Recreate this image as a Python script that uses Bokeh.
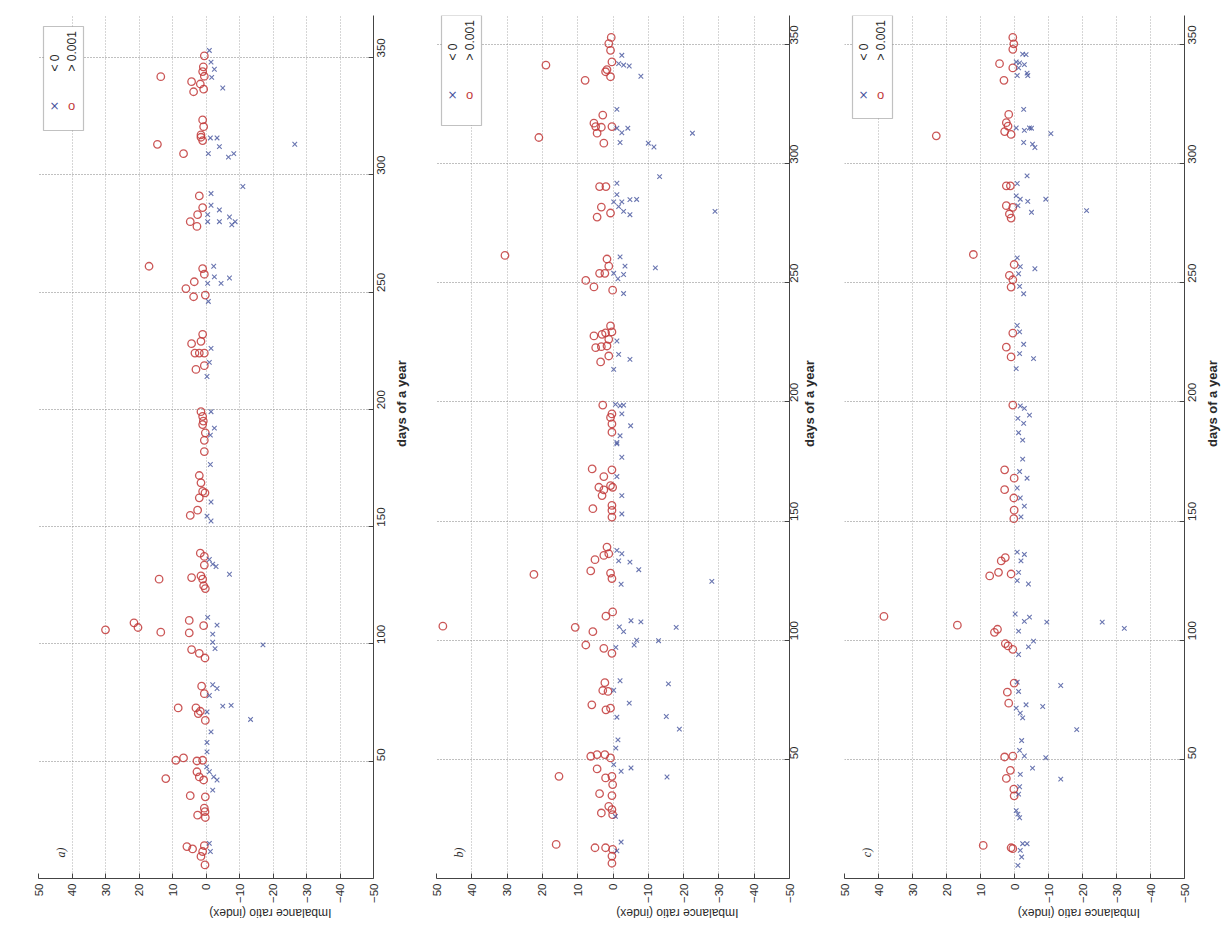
import math
from bokeh.plotting import figure
from bokeh.models import Range1d, FixedTicker, Label, BoxAnnotation
from bokeh.layouts import row
from bokeh.embed import file_html
from bokeh.resources import INLINE

# ---------------- data ----------------
imb_ticks = [50, 40, 30, 20, 10, 0, -10, -20, -30, -40, -50]
day_ticks = [50, 100, 150, 200, 250, 300, 350]
panel_tags = ["a)", "b)", "c)"]
legend_labels = ["< 0", "> 0.001"]
x_title = "Imbalance ratio  (index)"
y_title = "days of a year"

# panel a) : circles (> 0.001)
a_circ_day = [350.7, 341.8, 346, 344, 342, 339.7, 338.7, 335.4, 336.5, 323.4, 320.5, 317, 316, 314.6, 313, 309,
              291, 286, 283, 280, 278, 261, 260, 257.6, 254.4, 251.5, 248, 248.7, 232, 229, 228, 224, 224, 224,
              218.6, 217, 199, 197, 195, 193.5, 190, 186.8, 182, 171.8, 168.7, 165, 164.4, 162.3, 157, 154.8,
              138.7, 137.3, 133.6, 129, 128.3, 127.6, 127.6, 124.8, 123.6, 110, 107.8, 105, 104.7, 106, 109, 107,
              97.6, 96, 94, 82, 78.8, 72.7, 72.7, 70.3, 71.3, 67.4, 51.4, 50.4, 50.1, 50.4, 45.5, 43.3, 42.6, 42,
              35.3, 34.8, 30, 28.5, 27, 26, 13.6, 12.6, 14, 11.5, 9.4, 5.8]
a_circ_val = [0.5, 13.5, 0.8, 1, 0.5, 4.3, 1.7, 3.7, 0.7, 1, 0.7, 1.5, 1.5, 1, 14.5, 6.7,
              2, 1, 2.5, 4.7, 2.7, 17, 1, 0.5, 3.5, 6, 3.7, 0.2, 1, 1.5, 4.3, 3.3, 2, 0.5,
              0.5, 3, 1.5, 1, 0.8, 1, 0.2, 0.5, 0.5, 2, 1.5, 1, 0.3, 2, 2.5, 4.7,
              1.7, 0.5, 0.5, 1.5, 4.3, 14, 1, 0.7, 0.2, 5, 0.7, 13.5, 5, 30, 21.5, 20.3,
              4.3, 2, 0.3, 1.3, 0.5, 8.3, 3, 2.3, 1.7, 0.2, 6.7, 9, 2.7, 1, 2.7, 2, 12, 0.7,
              4.7, 0.2, 0.5, 0.3, 2.5, 0.2, 5.7, 4, 0.5, 1, 1.5, 0.3]
# panel a) : crosses (< 0)
a_cross_day = [353, 348, 345, 341.5, 337, 315.7, 315.7, 312, 309, 307.5, 309, 313, 295, 292, 287, 285, 283, 280,
               280, 282, 280, 278.7, 261, 256.5, 256, 253.7, 253.7, 246, 226, 220, 214, 199, 192, 189, 176.5,
               160.5, 154.5, 152.4, 136, 134, 133, 129.7, 111.3, 108, 104.2, 100.7, 98, 99.6, 82.6, 81, 78, 73.5,
               73.8, 71, 67.8, 62.5, 58, 54, 47.6, 45.5, 43.3, 42, 37.7, 15, 11.5]
a_cross_val = [-1, -1.5, -2.5, -1.7, -5, -1.3, -3.3, -4, -0.7, -6.7, -8.3, -26.5, -11, -1.5, -1.5, -4, -0.5, -0.5,
               -4, -7, -8.7, -7.7, -2.3, -2.5, -7, -4.5, -0.5, -0.7, -1.5, -1, -0.3, -1.5, -2.5, -1.3, -1.3,
               -1.5, -0.3, -1.5, -1, -2, -3, -7, -0.5, -3.3, -2, -2, -2.7, -17, -2, -3.3, -1, -5,
               -7.5, -0.3, -13.3, -1.5, -0.3, -0.3, -0.2, -1, -2.3, -3.3, -2, -1, -1.3]

# panel b) : circles (> 0.001)
b_circ_day = [353, 350.4, 347.6, 342.7, 339.5, 338.6, 336.5, 335, 341.4, 320.4, 317, 315.6, 315.3, 312.8, 315.6,
              308.6, 311, 290.4, 290.4, 281.8, 277.6, 279.3, 260, 254, 254, 257, 251, 248.3, 246.9, 261.5,
              231.9, 229, 229.4, 227.7, 228.4, 226.3, 222.8, 223.2, 223.5, 216.8, 219.3, 198.7, 195, 193.5,
              190.8, 187.3, 171.9, 171.5, 168.7, 164.2, 163.1, 160.7, 164.9, 164.2, 155.2, 156.6, 154.5, 151.7,
              139.1, 135.6, 136.3, 133.8, 129.1, 128.2, 125.9, 127.6, 111.9, 110.1, 105.4, 103.6, 98, 96.6,
              94.5, 105.9, 82.2, 78.9, 78.5, 72.9, 70.8, 71.5, 51.3, 52, 52, 50.6, 46, 42.9, 42.2, 42.9, 39.4,
              35.6, 34.8, 30.3, 28.9, 27.5, 26.8, 14.3, 12.9, 12.9, 12.2, 9.4, 6.4]
b_circ_val = [0.5, 1.2, 0.7, 0.3, 1.7, 2.1, 0.7, 7.9, 19, 2.9, 5.4, 4.9, 3.3, 4.5, 0.3,
              2.6, 21, 3.8, 2, 3.3, 4.5, 0.7, 1.7, 3.8, 2.3, 1.2, 7.7, 5.4, 0.1, 30.6,
              0.7, 2.1, 0.3, 5.4, 3.1, 1.2, 4.9, 3.3, 1.7, 3.5, 1.2, 2.9, 0.3, 0.7,
              0.3, 0.3, 5.9, 0.3, 2.6, 4, 2.6, 3.1, 0.7, 0.1, 5.7, 0.3, 0.3, 0.3,
              1.7, 2.6, 1.2, 5.1, 6.3, 0.7, 0.3, 22.4, 0.1, 2, 10.7, 5.7, 7.7, 2.6,
              0.3, 48.2, 2.3, 2.9, 1.4, 6, 2, 0.7, 6.3, 4.5, 2.3, 0.7, 4.5, 15.3, 2.1, 0.3, 0.1,
              3.8, 0.3, 1.2, 0.3, 3.3, 0.1, 16.1, 5.1, 2.1, 0.1, 0.3, 0.3]
# panel b) : crosses (< 0)
b_cross_day = [345.5, 342, 341.4, 341, 336.7, 322.8, 314.9, 313, 314.9, 308.9, 308.6, 307, 312.8, 294.6, 291.8,
               287, 284, 284, 282, 284.9, 285, 280, 278.6, 280, 260.9, 257, 254, 253.5, 251.7, 245.5, 256.3,
               225.6, 220, 217.9, 213.7, 199, 198.4, 198.7, 195, 190, 185.8, 183, 182.4, 176.8, 168.7, 160.7,
               153, 137.7, 136.3, 133.3, 132.8, 129.6, 123.5, 124.7, 108.2, 107.7, 105.6, 103.6, 105.4, 100, 98,
               99.8, 97, 83, 79, 81.7, 73.6, 67.7, 68, 62.7, 58.2, 54.7, 47.8, 45, 46.4, 42.6, 26.1, 15.3, 11.6]
b_cross_val = [-2.5, -1.6, -3, -4.6, -7.9, -1.1, -1.1, -2.5, -4.2, -2, -10, -11.6, -22.5, -13.2, -1.1,
               -1.1, -0.2, -2.5, -1.6, -4.8, -6.7, -3, -4.8, -28.9, -2, -3.4, -0.2, -3, -1.4, -3, -12,
               -1.1, -1.6, -4.8, -0.2, -0.7, -2, -3, -2.5, -5, -2, -1.1, -1.1, -2.5, -1.1, -2.5,
               -2.5, -1.1, -2.5, -1.6, -4.8, -7.3, -2.3, -28, -5.1, -7.9, -1.8, -3, -17.9, -6.7, -6,
               -12.9, -0.8, -2, -0.2, -15.7, -4.6, -1.1, -15.1, -18.8, -1.4, -0.8, -0.2, -2.3, -5.1, -15.3, -0.7,
               -2.3, -1.1]

# panel c) : circles (> 0.001)
c_circ_day = [353, 350.3, 348, 342, 340.2, 335, 320.7, 317.2, 315.8, 313.5, 312.3, 311.7, 290.7, 290.7, 282.4,
              281.7, 278.9, 277.2, 261.9, 257.7, 253.1, 251.3, 248.2, 228.9, 223, 218.9, 198.7, 171.5, 168,
              163.2, 159.7, 154.6, 151, 134.7, 133.3, 128.5, 127, 127.8, 110, 106.3, 103.3, 104.6, 98.6, 97.6,
              96.2, 82, 78.2, 73.6, 51, 51.4, 45.4, 42, 37.5, 34.7, 13.9, 12.9, 12.5]
c_circ_val = [0.5, 0.2, 0.5, 4.4, 0.5, 3.1, 1.7, 2.4, 1.9, 2.9, 1, 23, 2.4, 1.2, 2.4,
              0.5, 1.5, 1, 12.1, 0.1, 1.5, 0.5, 1, 0.5, 2.4, 1, 0.5, 2.9, 0.1,
              2.9, 0.2, 0.1, 0.2, 2.7, 3.9, 4.7, 7.3, 1, 38.4, 16.8, 5.9, 5, 2.7, 1.9,
              0.5, 0.1, 2.1, 1.7, 2.9, 0.5, 1.2, 2.4, 0.2, 0.1, 9.2, 1, 0.5]
# panel c) : crosses (< 0)
c_cross_day = [346, 345.8, 342.7, 342.3, 341.6, 340.2, 338, 337, 337, 322.8, 315, 314, 315, 314.9, 312.6, 308.9,
               308.2, 306.8, 294.9, 291.7, 286.5, 285.1, 284.2, 285.1, 282.4, 279.6, 280.3, 260.5, 256.8, 255.9,
               253.8, 248.5, 245.4, 232.1, 229.4, 224.2, 220.3, 218.2, 214, 198.3, 197.3, 194.5, 193.1, 191,
               187.1, 184, 176, 170.8, 168, 163.9, 159.7, 156.3, 151.8, 137, 136, 133.3, 128.5, 125, 123.6, 111,
               109.7, 107.9, 107.6, 103.8, 99.6, 97.2, 94, 107.6, 105, 82.4, 78.5, 81, 72.9, 72.2, 71.5, 69.4,
               67.4, 62.5, 57.9, 53.8, 51.4, 50.7, 46.3, 43.7, 41.7, 38.5, 35.4, 28.5, 27, 25.5, 14.6, 14.6,
               11.8, 9, 5.5]
c_cross_val = [-2.4, -3.4, -0.5, -1.5, -2.9, -1.2, -3.7, -0.8, -3.9, -2.7, -0.5, -2.9, -4.4, -5, -10.7, -2.7,
               -5.3, -6, -3.7, -0.8, -0.5, -1.7, -3.9, -9.2, -1, -5, -21.2, -0.8, -1.7, -6,
               -1.2, -1.5, -2.7, -0.8, -1.5, -2.7, -1.5, -5.6, -0.5, -1.7, -2.9, -4.4, -1, -2.7,
               -1.2, -2.4, -2.4, -1.5, -3.7, -0.8, -1.7, -2.9, -1.9, -0.8, -2.9, -1.9, -1.2, -0.8, -4.1, -0.2,
               -4.4, -2.9, -9.5, -1.2, -5.6, -4.1, -1.2, -25.8, -32.3, -0.8, -1.2, -13.6, -3.4, -8.3, -0.5, -1.7,
               -2.4, -18.3, -2.1, -1.5, -2.9, -9.2, -5.3, -1.7, -13.6, -1.5, -1.2, -0.5, -1, -1.5, -2.4, -3.7,
               -1.7, -2.1, -1]

# ---------------- styling ----------------
CROSS_COLOR = "#44529c"
CIRC_COLOR = "#c23a3a"
TXT = "#2b2b2b"
FONT = "Liberation Sans"
FRAME_TOP = 15
FRAME_H = 863


def make_panel(tag, cd, cv, od, ov, left, fw, right, day_max,
               tick_gap, title_gap, box_top, box_h, dx):
    p = figure(frame_width=fw, frame_height=FRAME_H,
               x_range=Range1d(50, -50), y_range=Range1d(0, day_max),
               output_backend="svg", toolbar_location=None,
               y_axis_location="right",
               min_border_left=left, min_border_right=right,
               min_border_top=FRAME_TOP, min_border_bottom=50,
               background_fill_color="white", border_fill_color="white",
               outline_line_color=None)

    for ax, ticks in ((p.xaxis[0], imb_ticks), (p.yaxis[0], day_ticks)):
        ax.ticker = FixedTicker(ticks=ticks)
        ax.major_label_orientation = math.pi / 2
        ax.major_tick_in = 5
        ax.major_tick_out = 0
        ax.minor_tick_line_color = None
        ax.axis_line_color = "#444444"
        ax.major_tick_line_color = "#444444"
        ax.major_label_text_font = FONT
        ax.major_label_text_font_size = "11.5px"
        ax.major_label_text_color = TXT
        ax.major_label_standoff = 5
        ax.axis_label_text_font = FONT
        ax.axis_label_text_color = TXT

    xa = p.xaxis[0]
    ya = p.yaxis[0]
    xa.axis_label = x_title
    xa.axis_label_text_font_size = "12px"
    xa.axis_label_text_font_style = "normal"
    xa.axis_label_standoff = 7
    ya.axis_label = y_title
    ya.axis_label_text_font_size = "13px"
    ya.axis_label_text_font_style = "bold"
    ya.major_label_standoff = tick_gap
    ya.axis_label_standoff = title_gap
    if "axis_label_orientation" in type(xa).properties():
        xa.axis_label_orientation = math.pi
        ya.axis_label_orientation = math.pi / 2

    p.xgrid.grid_line_color = "#9a9a9a"
    p.xgrid.grid_line_dash = "1 2"
    p.xgrid.grid_line_alpha = 0.8
    p.ygrid.grid_line_color = "#808080"
    p.ygrid.grid_line_dash = "1 2"

    p.scatter(x=ov, y=od, marker="circle", size=7.5, fill_color=None,
              line_color=CIRC_COLOR, line_width=1.3, line_alpha=0.85)
    p.scatter(x=cv, y=cd, marker="x", size=6.5,
              line_color=CROSS_COLOR, line_width=1.1, line_alpha=0.8)

    # panel tag
    p.add_layout(Label(x=22, y=26, x_units="screen", y_units="screen", text=tag,
                       angle=math.pi / 2, text_align="center", text_baseline="middle",
                       text_font="Liberation Serif", text_font_size="12px",
                       text_font_style="italic", text_color=TXT))

    # legend box (rotated legend, drawn by hand)
    btop = FRAME_H - box_top
    p.add_layout(BoxAnnotation(left=5 + dx, right=45 + dx, top=btop, bottom=btop - box_h,
                               left_units="screen", right_units="screen",
                               top_units="screen", bottom_units="screen",
                               fill_color="white", fill_alpha=1.0,
                               line_color="#333333", line_width=1.2))
    p.add_layout(Label(x=16 + dx, y=btop - 79, x_units="screen", y_units="screen", text="\u00d7",
                       text_align="center", text_baseline="middle", text_font="DejaVu Sans",
                       text_font_size="12px", text_color=CROSS_COLOR))
    p.add_layout(Label(x=33 + dx, y=btop - 79, x_units="screen", y_units="screen", text="o",
                       text_align="center", text_baseline="middle", text_font=FONT,
                       text_font_size="13px", text_color=CIRC_COLOR))
    p.add_layout(Label(x=16 + dx, y=btop - 45, x_units="screen", y_units="screen", text=legend_labels[0],
                       angle=math.pi / 2, text_align="left", text_baseline="middle",
                       text_font=FONT, text_font_size="12px", text_color=TXT))
    p.add_layout(Label(x=33 + dx, y=btop - 45, x_units="screen", y_units="screen", text=legend_labels[1],
                       angle=math.pi / 2, text_align="left", text_baseline="middle",
                       text_font=FONT, text_font_size="12px", text_color=TXT))
    return p


pa = make_panel(panel_tags[0], a_cross_day, a_cross_val, a_circ_day, a_circ_val,
                38, 335, 45, 367.9, 8, 9, 11, 104, 0)
pb = make_panel(panel_tags[1], b_cross_day, b_cross_val, b_circ_day, b_circ_val,
                17, 353, 37, 362.2, 5, 4, 0, 110, 0)
pc = make_panel(panel_tags[2], c_cross_day, c_cross_val, c_circ_day, c_circ_val,
                17, 340, 45, 362.2, 8, 9, 0, 103, 3)

layout = row(pa, pb, pc, spacing=0)
open("out.html", "w").write(file_html(layout, INLINE))
